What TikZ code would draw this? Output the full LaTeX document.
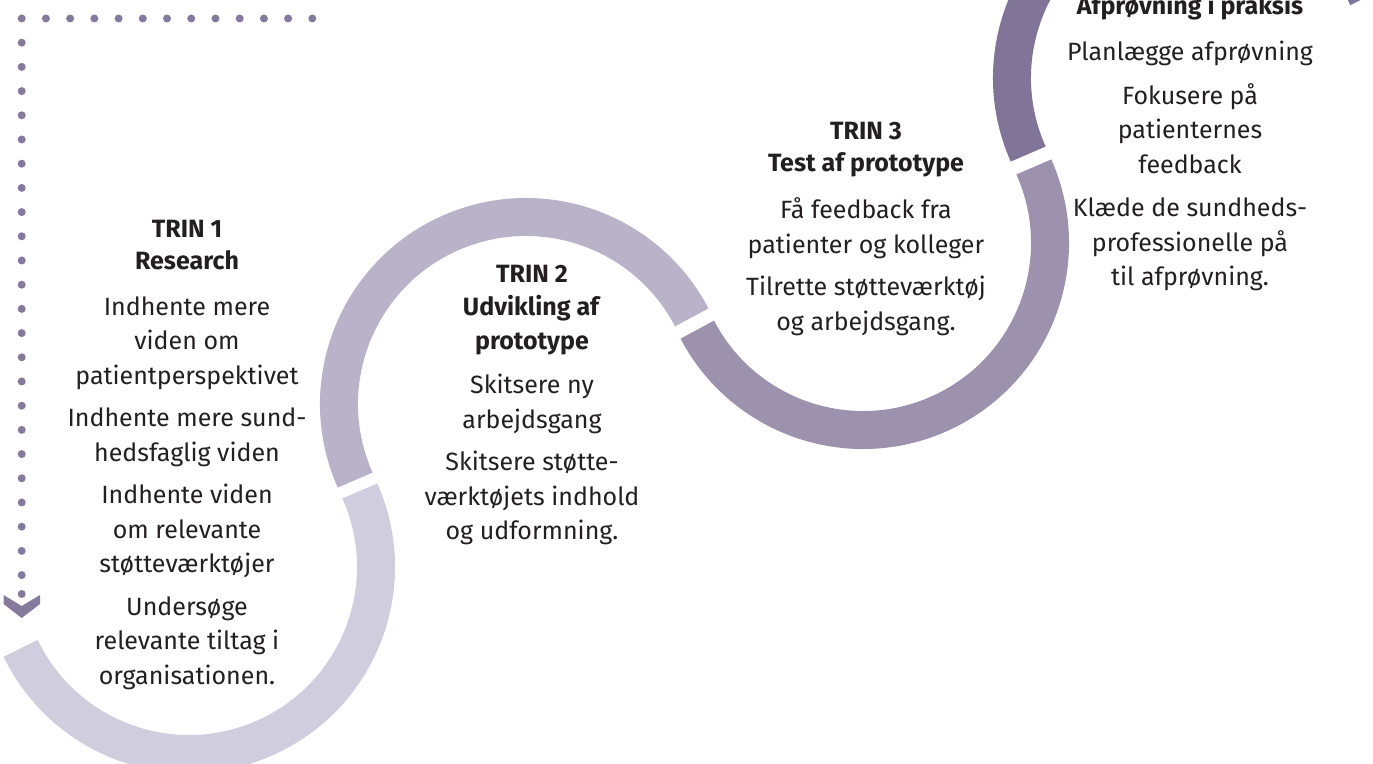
\documentclass[tikz,border=0pt]{standalone}
\usepackage{fontspec}
\setmainfont{Fira Sans}
\definecolor{segA}{RGB}{208,205,222}
\definecolor{segB}{RGB}{185,178,201}
\definecolor{segC}{RGB}{157,146,174}
\definecolor{segD}{RGB}{128,116,152}
\definecolor{dotcol}{RGB}{133,122,158}
\definecolor{textcol}{RGB}{35,31,32}
\begin{document}
\begin{tikzpicture}[x=1pt,y=1pt,
  band/.style={line width=38pt},
  dotmark/.style={fill=dotcol, draw=none},
  txt/.style={align=center, inner sep=0pt, anchor=north, text=textcol,
    font=\fontsize{25}{34.5}\selectfont}]
\useasboundingbox (0,0) rectangle (1373,763);
\coordinate (c1) at (189,196);
\coordinate (c2) at (526,359);
\coordinate (c3) at (863,520);
\coordinate (c4) at (1199,685);
% band segments
\draw[band, segA] (c1) ++(205.8:187) arc[start angle=205.8, end angle=384, radius=187];
\draw[band, segB] (c2) ++(204:187) arc[start angle=204, end angle=27.6, radius=187];
\draw[band, segC] (c3) ++(207.6:187) arc[start angle=207.6, end angle=384, radius=187];
\draw[band, segD] (c4) ++(204:187) arc[start angle=204, end angle=25.8, radius=187];
% dotted line
\foreach \i in {0,...,12} \fill[dotmark] (21.7+24.22*\i,744.5) circle[radius=4];
\foreach \j in {1,...,23} \fill[dotmark] (21.7,744.5-24.2*\j) circle[radius=4];
\fill[dotmark] (21.7,169) circle[radius=4];
\fill[dotmark] (3.5,168) -- (21.7,157) -- (40,168) -- (40,159) -- (21.7,145) -- (3.5,159) -- cycle;
% texts
\node[txt] (t1) at (187,543.5) {\textbf{TRIN 1}\\[-2.5pt]\textbf{Research}\\[11.5pt]
Indhente mere\\viden om\\patientperspektivet\\[8pt]
Indhente mere sund-\\hedsfaglig viden\\[8pt]
Indhente viden\\om relevante\\støtteværktøjer\\[8pt]
Undersøge\\relevante tiltag i\\organisationen.};
\node[txt] (t2) at (532,498.5) {\textbf{TRIN 2}\\[-1pt]\textbf{Udvikling af}\\[-1pt]\textbf{prototype}\\[10pt]
Skitsere ny\\arbejdsgang\\[8pt]
Skitsere støtte-\\værktøjets indhold\\og udformning.};
\node[txt] (t3) at (866,641.5) {\textbf{TRIN 3}\\[-2.5pt]\textbf{Test af prototype}\\[13pt]
Få feedback fra\\patienter og kolleger\\[8pt]
Tilrette støtteværktøj\\og arbejdsgang.};
\node[txt] (t4) at (1190,769) {\textbf{Afprøvning i praksis}\\[12pt]
Planlægge afprøvning\\[9pt]
Fokusere på\\patienternes\\feedback\\[9pt]
Klæde de sundheds-\\professionelle på\\til afprøvning.};
\end{tikzpicture}
\end{document}
